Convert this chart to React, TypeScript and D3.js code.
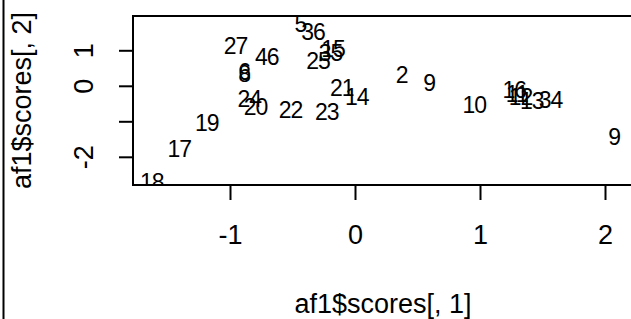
import React from "react";
import { scaleLinear } from "d3";

// score labels and their positions (component 1, component 2)
const labels = ["18", "17", "19", "27", "46", "6", "8", "24", "20", "22", "23", "5", "36", "15", "35", "25", "21", "14", "2", "9", "10", "16", "11", "12", "13", "34", "9"];
const score1 = [-1.63, -1.41, -1.19, -0.96, -0.71, -0.89, -0.89, -0.85, -0.8, -0.52, -0.23, -0.44, -0.34, -0.18, -0.2, -0.3, -0.11, 0.01, 0.37, 0.59, 0.95, 1.27, 1.29, 1.32, 1.41, 1.56, 2.07];
const score2 = [-2.7, -1.75, -1.02, 1.15, 0.84, 0.42, 0.36, -0.34, -0.57, -0.65, -0.71, 1.77, 1.54, 1.07, 0.95, 0.73, -0.03, -0.29, 0.33, 0.11, -0.51, -0.09, -0.2, -0.29, -0.4, -0.37, -1.41];

const xTicks = [-1, 0, 1, 2];
const yTicks = [-2, -1, 0, 1];
const yTickLabels = [-2, 0, 1]; // R drops "-1" because it would overlap

const xDomain = [-1.78, 2.22];
const yDomain = [-2.78, 1.98];

export default function App() {
  const width = 631;
  const height = 319;
  const box = { left: 133, right: 633, top: 16, bottom: 185 };
  const font = "Liberation Sans, Arial, sans-serif";
  const fs = 27;
  const labelFs = 23;

  const x = scaleLinear().domain(xDomain).range([box.left, box.right]);
  const y = scaleLinear().domain(yDomain).range([box.bottom, box.top]);

  return (
    <svg
      width={width}
      height={height}
      style={{ position: "absolute", left: 0, top: 0, background: "#fff" }}
      fontFamily={font}
    >
      <defs>
        <clipPath id="plotclip">
          <rect x={box.left} y={box.top} width={box.right - box.left} height={box.bottom - box.top} />
        </clipPath>
      </defs>
      <rect width={width} height={height} fill="#fff" />
      <line x1={3.5} x2={3.5} y1={0} y2={height} stroke="#000" strokeWidth={2} />

      <g clipPath="url(#plotclip)">
        {labels.map((d, i) => (
          <text
            key={i}
            x={x(score1[i])}
            y={y(score2[i])}
            dy="0.36em"
            textAnchor="middle"
            fontSize={labelFs}
            letterSpacing={-1}
            fill="#000"
          >
            {d}
          </text>
        ))}
      </g>

      <rect
        x={box.left}
        y={box.top}
        width={box.right - box.left}
        height={box.bottom - box.top}
        fill="none"
        stroke="#000"
        strokeWidth={2}
      />

      {xTicks.map((t) => (
        <g key={"x" + t}>
          <line x1={x(t)} x2={x(t)} y1={box.bottom} y2={box.bottom + 15} stroke="#000" strokeWidth={2} />
          <text x={x(t)} y={234} dy="0.36em" textAnchor="middle" fontSize={fs}>
            {t}
          </text>
        </g>
      ))}
      {yTicks.map((t) => (
        <line key={"y" + t} x1={box.left} x2={box.left - 14} y1={y(t)} y2={y(t)} stroke="#000" strokeWidth={2} />
      ))}
      {yTickLabels.map((t) => (
        <text
          key={"yl" + t}
          transform={`translate(83,${y(t)}) rotate(-90)`}
          dy="0.36em"
          textAnchor="middle"
          fontSize={fs}
        >
          {t}
        </text>
      ))}

      <text x={383} y={303} dy="0.36em" textAnchor="middle" fontSize={fs}>
        af1$scores[, 1]
      </text>
      <text transform={`translate(21,${(box.top + box.bottom) / 2}) rotate(-90)`} dy="0.36em" textAnchor="middle" fontSize={fs}>
        af1$scores[, 2]
      </text>
    </svg>
  );
}
